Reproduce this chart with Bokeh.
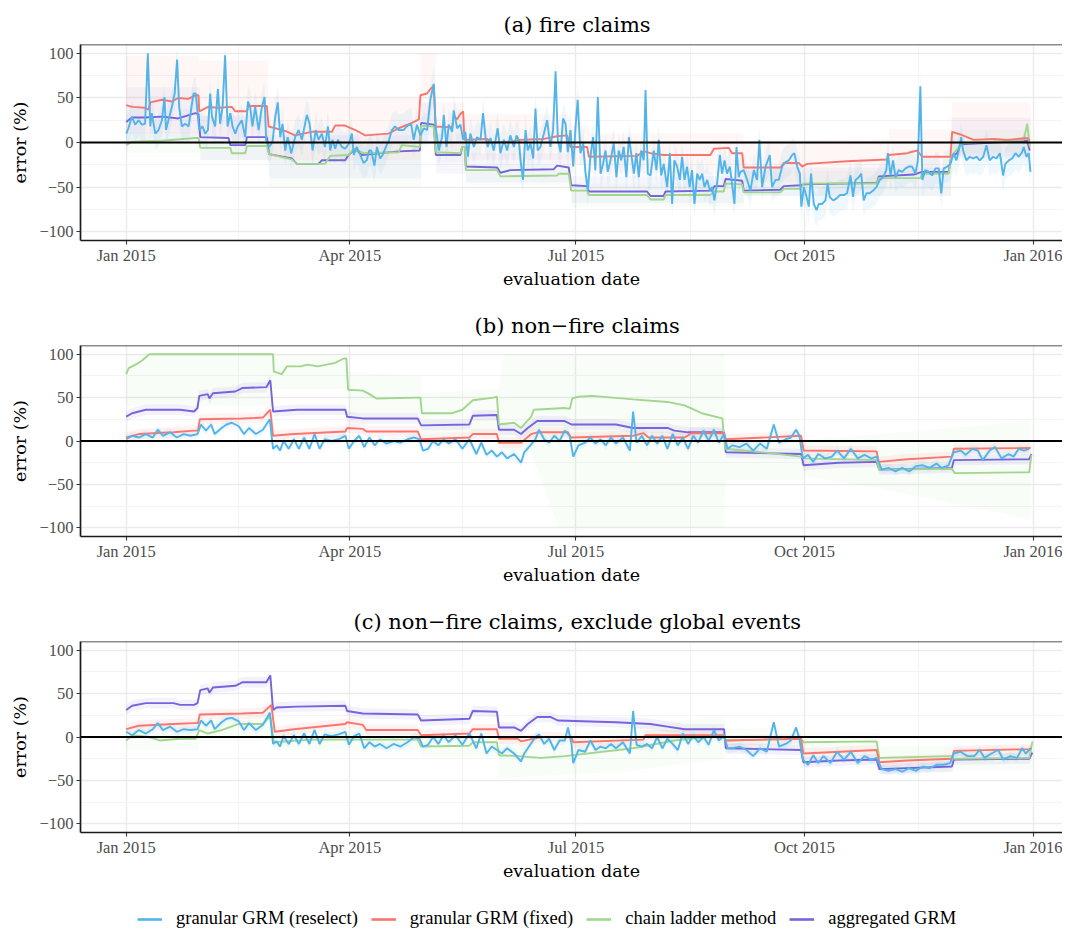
from bokeh.plotting import figure
from bokeh.models import Range1d, FixedTicker, Span, Legend, LegendItem
from bokeh.layouts import column
from bokeh.embed import file_html
from bokeh.resources import INLINE

# ---------------- data (x = days since 2015-01-01, y = error in %) ----------------
X_TICKS = [0, 90, 181, 273, 365]
X_MINOR = [45, 135.5, 227, 319]
X_LABELS = ["Jan 2015", "Apr 2015", "Jul 2015", "Oct 2015", "Jan 2016"]
Y_TICKS = [-100, -50, 0, 50, 100]
Y_MINOR = [-75, -25, 25, 75]
Y_LABELS = ["\u2212100", "\u221250", "0", "50", "100"]

SERIES = ["granular GRM (reselect)", "granular GRM (fixed)", "chain ladder method", "aggregated GRM"]
TITLES = ["(a) fire claims", "(b) non\u2212fire claims", "(c) non\u2212fire claims, exclude global events"]

# ---- panel (a) fire claims ----
A_BLUE = [(0,10),(0.9,16),(2.3,29),(3.6,20),(5,25),(6.3,20),(7.6,21),(8.7,100),(9.7,18),(10.3,33),(11.7,10),(13,14),(14.4,25),(15.4,51),(16,14),(17,25),(18.4,40),(19.5,55),(20.5,93),(21.3,40),(22.4,18),(23.7,21),(25.1,18),(27.1,55),(28,55),(29.4,14),(30.7,18),(31.8,10),(32.9,14),(33.8,55),(34.5,29),(35.8,18),(36.9,60),(37.8,21),(38.8,40),(39.8,98),(40.8,18),(41.9,33),(42.8,18),(43.9,10),(44.9,18),(46.5,25),(47.9,6),(49,46),(49.9,40),(50.8,18),(51.9,40),(53.3,14),(54.6,40),(55.7,51),(56.3,3),(57.5,-5),(58.9,1),(60,29),(61,45),(62,6),(62.9,21),(64,-9),(65,6),(66.4,-12),(68,6),(69.4,14),(70.7,3),(72.7,31),(73.8,21),(75,-9),(76.3,14),(77.4,3),(78.7,10),(80,-5),(81.2,18),(82.1,-9),(83,3),(84.1,-7),(85.2,3),(86.8,-5),(88.1,-7),(89.7,-1),(90.8,10),(91.6,-14),(92.8,-5),(94.2,-14),(95.5,-23),(96.8,-20),(97.8,-9),(98.6,-9),(99.9,-26),(100.9,-5),(102.2,-18),(103.2,-14),(104.5,-5),(105.8,3),(106.9,14),(108.2,18),(109.6,14),(111.6,14),(112.9,18),(114.7,21),
(115.7,3),(117,20),(118.4,8),(119.8,16),(121.1,14),(122.4,48),(123.8,66),(124.5,18),(125.8,-9),(127.1,6),(127.8,31),(128.9,-5),(129.8,20),(131.2,12),(131.8,36),(133.2,16),(134.5,20),(135.6,3),(136.5,12),(137.5,-16),(138.5,10),(139.9,-5),(141.2,6),(142.6,3),(143.6,33),(144.6,6),(145.5,-5),(146.6,5),(147.9,-9),(149.5,16),(150.6,-12),(152,3),(153.3,-9),(154.6,8),(156,-5),(157.1,8),(158,3),(158.7,-20),(159.7,-42),(160.7,14),(161.6,-9),(162.7,-1),(163.8,-18),(164.7,38),(165.6,-9),(166.7,-5),(168.1,10),(169.4,25),(170.7,-5),(171.8,14),(172.8,80),(173.7,3),(174.8,-11),(175.8,27),(176.8,21),(177.7,-11),(178.8,14),(179.9,-27),(180.8,16),(181.7,48),(182.8,-12),(183.9,-1),(184.8,-33),(185.8,-54),(186.8,-16),(187.9,6),(188.8,-31),(189.8,51),(190.9,-35),(191.9,-24),(192.9,-9),(193.8,-33),(194.9,-20),(196.2,-1),(197.3,-39),(198.2,-9),(199.2,-20),(200.2,-5),(201.3,-39),(202.3,6),(203.2,-12),(204.3,-35),(205.3,-12),(206.3,-39),(207.2,-9),(208.3,-20),(209,59),(209.9,-35),(211,-37),(212.3,-9),(213.4,-31),(214.3,3),(215.3,-37),(216.3,-24),(217.7,-50),(218.8,-12),(219.7,-69),(220.6,-20),(221.7,-27),(222.8,-42),(223.7,-16),(224.7,-42),(225.7,-27),(226.8,-50),(227.7,-31),(228.7,-69),(229.8,-35),(230.8,-42),(231.8,-35),(232.7,-50),(233.8,-42),(234.9,-54),(235.8,-50),(236.7,-65),(237.8,-46),(238.9,-14),(239.8,-35),(240.8,-20),(241.8,-35),(242.9,-27),(243.8,-46),(244.8,-69),(245.6,-5),(246.5,-39),
(247.2,-33),(248.5,-31),(249.9,-42),(251.2,-54),(252.6,-31),(253.9,-42),(254.8,3),(255.9,-50),(257.3,-27),(259,-14),(259.9,-50),(261.3,-42),(262.6,-42),(264,-27),(265.3,-22),(266.7,-20),(268,-14),(268.9,-12),(270,-27),(271.1,-35),(271.7,-72),(272.7,-50),(273.8,-61),(274.7,-72),(275.6,-35),(276.7,-69),(277.8,-76),(278.7,-69),(280,-69),(281.4,-65),(282.3,-46),(283.1,-61),(284.5,-65),(285.8,-63),(287.2,-59),(288.8,-59),(290.1,-57),(291.5,-37),(292.5,-61),(293.5,-42),(294.8,-39),(295.8,-35),(296.8,-65),(297.9,-57),(299.2,-57),(300.6,-54),(301.9,-50),(303.3,-42),(304.6,-39),(305.9,-31),(306.5,-12),(307.6,-37),(308.6,-20),(309.6,-39),(310.9,-31),(312.3,-33),(313.6,-29),(314.9,-27),(316.3,-27),(317.6,-35),(318.6,-20),(319.6,63),(320.4,-42),(321.6,-31),(323,-33),(324.3,-37),(325.7,-29),(327,-29),(328,-57),(329,-29),(330.4,-27),(331.7,-24),(333,-12),(334.1,-20),(335.1,-9),(336,6),(336.8,-9),(338.1,-20),(339.5,-16),(340.8,-18),(342.2,-16),(343.5,-20),(344.9,-16),(346.2,-3),(347.5,-20),(348.9,-16),(350.2,-18),(351.6,-12),(352.9,-37),(353.8,-24),(355.2,-20),(356.5,-18),(357.9,-12),(359.2,-16),(360.5,-11),(361.2,-5),(362.3,-16),(363.2,-12),(363.9,-33)]
A_RED = [(0,42),(2.3,40),(7.6,39),(9,37),(9.7,45),(14.4,48),(18.4,46),(21,50),(25,49),(27.8,53),(29.1,53),(29.4,35),(33,40),(37,39),(42.5,40),(43.9,35),(48.6,35),(49.2,41),(56.6,41),(57.3,18),(64,13),(68,8),(74.7,12),(82.8,12),(84.1,19),(88.1,19),(92.2,14),(96.2,8),(105.6,10),(109.6,16),(115,22),(117.8,26),(118.4,53),(121.1,55),(122.4,60),(123.8,64),(124.5,18),(131.2,17),(131.8,30),(133.2,26),(134.5,32),(135.6,35),(136.1,3),(145.3,4),(146.6,0),(154.6,1),(158.7,3),(168.1,4),(173.4,7),(177.4,8),(178.8,-5),(185.5,-5),(186.2,-16),(205.6,-15),(208.3,-10),(211,-12),(216.3,-14),(235.1,-14),(236.5,-7),(242.5,-6),(243.8,-12),(247.9,-12),(248.5,-28),(263.3,-28),(264.6,-23),(270.7,-23),(272,-27),(274,-24),(290,-21),(306.2,-19),(306.9,-14),(314.3,-12),(318.3,-9),(320.3,-16),(331.7,-16),(332.4,12),(335.7,9),(341.1,3),(349.1,4),(354.5,3),(362.6,5),(363.6,2)]
A_GREEN = [(0,-3),(2.3,1),(14.4,2),(27.8,5),(29.1,5),(29.8,-6),(41.9,-6),(42.5,-12),(47.9,-12),(48.6,-4),(56.6,-4),(57.5,-13),(66.7,-19),(68.7,-24),(80,-24),(82.1,-15),(89.5,-14),(91.5,-7),(95.5,-12),(109.6,-11),(110.9,-3),(118.2,-5),(118.7,19),(123.8,18),(124.6,-11),(134.5,-12),(135.2,-5),(136.3,-5),(136.7,-31),(149.3,-31),(150.6,-38),(173.4,-37),(174.1,-35),(178.1,-35),(179.1,-54),(185.5,-54),(186.2,-59),(209.6,-59),(211,-64),(216.3,-64),(217,-59),(235.1,-59),(236.5,-55),(240.5,-55),(241.2,-46),(247.9,-47),(248.5,-56),(263.3,-56),(264.6,-52),(271.3,-52),(272.7,-46),(302.2,-46),(302.9,-40),(319.6,-40),(320.3,-35),(331,-35),(332,-16),(335.1,-5),(336.4,-1),(349.1,1),(361.2,3),(362.6,21),(363.6,-5)]
A_PURPLE = [(0,23),(2.3,28),(7.6,28),(14.4,29),(21,27),(27.8,33),(29.1,32),(29.8,6),(41.2,5),(41.9,-3),(47.9,-3),(48.6,6),(56.6,6),(57.5,-13),(66.7,-18),(68.7,-24),(77.4,-24),(78.7,-20),(88.1,-20),(89.5,-14),(92.2,-7),(94.8,-14),(109.6,-10),(118.2,-9),(118.7,22),(123.8,20),(124.6,-14),(134.5,-14),(135.2,-5),(136.3,-5),(136.7,-27),(149.3,-28),(150.6,-34),(154.6,-31),(172.1,-30),(173.4,-26),(178.1,-28),(179.1,-48),(185.5,-49),(186.2,-55),(209.6,-55),(211,-60),(216.3,-60),(217,-55),(235.8,-54),(236.7,-49),(240.5,-49),(241.2,-41),(247.9,-43),(248.5,-54),(263.3,-53),(264.6,-49),(271.3,-48),(272.7,-47),(290.1,-46),(302.2,-45),(302.9,-38),(317,-36),(320.3,-33),(331,-33),(332,-16),(334.4,-12),(335.7,-2),(349.1,0),(362.6,2),(363.6,-9)]
# interval bands (day, lower, upper)
A_RED_BAND = [(0,10,97),(29.4,10,97),(29.4,5,92),(57.3,5,92),(57.3,-20,50),(118.4,-20,50),(118.4,25,100),(124.5,25,100),(124.5,-10,45),(136.1,-10,45),(136.1,-20,32),(178.8,-20,32),(178.8,-25,20),(186.2,-25,20),(186.2,-35,10),(248.5,-35,10),(248.5,-45,2),(306.9,-45,4),(306.9,-35,15),(332.4,-35,15),(332.4,-15,45),(364,-15,45)]
A_PURPLE_BAND = [(0,0,62),(29.8,0,62),(29.8,-20,30),(57.5,-20,30),(57.5,-40,8),(118.7,-40,8),(118.7,0,45),(124.6,0,45),(124.6,-35,10),(136.7,-35,10),(136.7,-45,-12),(179.1,-45,-12),(179.1,-68,-38),(248.5,-68,-38),(248.5,-60,-28),(332,-60,-28),(332,-18,28),(364,-18,28)]
A_GREEN_BAND = [(0,-12,12),(29.8,-12,12),(29.8,-20,5),(57.5,-20,5),(57.5,-50,0),(118.7,-50,0),(118.7,8,28),(124.6,8,28),(124.6,-22,2),(136.7,-22,2),(136.7,-48,-24),(179.1,-48,-24),(179.1,-72,-46),(248.5,-72,-46),(248.5,-60,-32),(332,-60,-32),(332,-12,14),(364,-12,14)]
A_HALFWIDTH = {"blue": 18}

# ---- panel (b) non-fire claims ----
B_BLUE = [(0,2),(2.4,6),(5.1,4),(7.9,8),(10.7,4),(12.7,13),(14.8,6),(17.6,10),(20.4,4),(23.1,8),(25.9,6),(28.7,8),(30.1,19),(32.1,12),(34.2,19),(35.6,8),(38.4,15),(40.4,19),(42.5,21),(45.3,17),(47.4,8),(49.4,15),(52.2,8),(55,13),(57.8,25),(59.1,-9),(60.5,-5),(61.9,-11),(63.3,0),(65.4,-9),(67.5,2),(69.5,-9),(71.6,4),(73.7,-9),(75.8,8),(77.8,-9),(79.9,2),(82.7,0),(85.5,2),(88.2,6),(89.6,-9),(91.7,0),(93.8,6),(95.8,-7),(97.9,4),(100,-5),(102.1,2),(104.8,-3),(107.6,0),(110.4,-2),(113.2,2),(115.9,4),(118,2),(119.4,-11),(121.5,-9),(123.5,0),(125.6,-5),(127.7,2),(129.8,-3),(132.5,2),(135.3,-9),(138.1,2),(140.9,-15),(142.9,-2),(145,-16),(147.1,-11),(149.2,-18),(151.2,-13),(153.3,-20),(156.1,-15),(158.9,-25),(160.2,-13),
(164.7,2),(166.1,13),(168.2,2),(170.2,-2),(172.3,6),(174.4,0),(176.5,12),(178.5,6),(179.9,-18),(182,-5),(184.7,-2),(186.8,4),(188.9,-3),(190.9,2),(193,-5),(195.1,4),(197.1,-3),(199.9,4),(202.7,-11),(204,34),(205.4,-2),(207.5,6),(209.6,-5),(211.6,6),(213.7,-3),(215.8,6),(217.8,-9),(219.9,8),(222,-5),(224,4),(226.1,-9),(228.2,6),(230.2,-2),(232.3,12),(234.4,0),(236.5,13),(238.5,-2),(240.6,8),(242,-9),(244,-5),(246.8,-7),(249.6,-3),(252.3,-11),(255.1,-3),(257.8,-9),(260.6,19),(262.7,-2),(265.4,2),(267.5,4),(269.6,13),(270.9,6),(272.3,-20),(274.4,-16),(276.5,-24),(278.5,-15),(281.3,-20),(284,-18),(286.1,-11),(288.9,-20),(291.6,-9),(294.4,-20),(297.1,-16),(299.9,-20),(302,-18),(304,-33),(306.8,-31),(309.6,-35),(312.3,-31),(315.1,-35),(317.8,-29),(320.6,-28),(323.3,-31),(326.1,-26),(328.2,-31),(330.9,-28),(333,-13),(335.8,-11),(337.8,-16),(340.6,-9),(342.7,-11),(344.7,-22),(347.5,-11),(349.6,-7),(352.3,-20),(355.1,-15),(357.1,-18),(359.2,-9),(361.3,-11),(363.4,-9)]
B_RED = [(0,4),(5.1,8),(19,10),(27.3,12),(28.9,12),(29.6,25),(46.7,26),(55,27),(58,36),(59.1,6),(67.5,8),(88.2,11),(88.9,15),(95.2,14),(96.6,11),(117.3,11),(118.7,2),(138.1,4),(139.5,8),(149.2,8),(150,-2),(158.9,-2),(163,8),(165.4,10),(177.8,10),(178.9,4),(204,6),(208.2,9),(210.2,4),(224.7,4),(227.5,9),(240.6,9),(241.3,2),(271.6,6),(272.6,-11),(302,-12),(302.8,-24),(314.4,-21),(332.3,-18),(333.1,-9),(364,-8)]
B_GREEN = [(0,77),(1,84),(5.1,90),(6.5,93),(9.3,100),(59.1,100),(59.4,80),(62.6,77),(64.7,86),(70.2,86),(73,88),(77.1,86),(84.1,90),(87.5,95),(88.6,95),(89.3,59),(95.2,58),(97.9,54),(100.7,49),(117.3,50),(118.4,50),(119,32),(131.2,32),(135.3,36),(139.5,47),(147.8,50),(149.2,51),(150,19),(156.1,21),(158.9,15),(163,28),(164,36),(176.5,38),(178.5,37),(179.5,49),(182,51),(187.5,52),(204,48),(217.8,45),(224.7,41),(231.6,32),(239.9,26),(241,-9),(259.2,-14),(271.6,-18),(273,-20),(302,-22),(303.1,-33),(332.3,-32),(333.4,-37),(363.4,-36),(364.3,-16)]
B_PURPLE = [(0,28),(2.4,32),(7.9,36),(21.7,36),(27.3,34),(28.7,38),(29.4,52),(32.8,54),(33.5,49),(34.9,55),(43.9,57),(46.7,61),(56.4,62),(58,70),(59.1,34),(68.8,36),(88.2,36),(88.9,28),(95.2,26),(117.3,26),(118.7,18),(138.1,19),(139.5,29),(149.2,30),(150,13),(156.1,13),(158.9,8),(161.6,15),(165.4,23),(176.5,23),(179.2,19),(197.1,19),(204,15),(217.8,15),(220.6,12),(226.1,10),(240.6,10),(241.3,-13),(271.6,-15),(272.6,-28),(286.8,-25),(302,-24),(303.1,-33),(332.3,-31),(333.1,-22),(363.4,-21),(364.3,-15)]
B_GREEN_BAND = [(0,40,100),(59.1,40,100),(59.1,60,100),(89.3,60,100),(89.3,30,80),(119,30,75),(119,10,55),(150,5,60),(152,-10,100),(163,-15,100),(174,-100,100),(240.6,-100,100),(241,-45,0),(272.6,-45,0),(273,-40,2),(303,-55,8),(333,-72,15),(364,-90,24)]
B_HALFWIDTH = {"blue": 5, "red": 6, "purple": 6}

# ---- panel (c) non-fire claims, exclude global events ----
C_BLUE = [(0,6),(2.4,2),(5.1,8),(7.9,4),(10.7,9),(12.7,16),(14.8,8),(17.6,12),(20.4,6),(23.1,9),(25.9,8),(28.7,9),(30.1,19),(32.1,13),(34.2,19),(35.6,9),(38.4,17),(40.4,21),(42.5,22),(45.3,18),(47.4,8),(49.4,16),(52.2,8),(55,14),(57.8,28),(59.1,-8),(60.5,-5),(61.9,-11),(63.3,1),(65.4,-8),(67.5,2),(69.5,-8),(71.6,4),(73.7,-8),(75.8,8),(77.8,-8),(79.9,3),(82.7,1),(85.5,3),(88.2,6),(89.6,-9),(91.7,1),(93.8,4),(95.8,-13),(97.9,-6),(100,-11),(102.1,-8),(104.8,-13),(107.6,-8),(110.4,-11),(113.2,-6),(115.9,0),(118,-2),(119.4,-11),(121.5,-9),(123.5,0),(125.6,-8),(127.7,2),(129.8,-6),(132.5,2),(135.3,-9),(138.1,4),(140.9,-13),(142.9,4),(145,-19),(147.1,-11),(149.2,-15),(151.2,-19),(153.3,-13),(156.1,-19),(158.9,-28),(160.2,-19),
(164.7,0),(166.1,3),(168.2,-8),(170.2,-2),(172.3,-15),(174.4,-4),(176.5,-4),(177.8,11),(179.2,-8),(179.9,-30),(182,-15),(184.7,-17),(186.8,-4),(188.9,-15),(190.9,-11),(193,-13),(195.1,-8),(197.1,-13),(199.9,-6),(202.7,-19),(204,30),(205.4,-9),(207.5,-11),(209.6,-8),(211.6,-13),(213.7,0),(215.8,-13),(217.8,-2),(219.9,-8),(222,-15),(224,4),(226.1,-8),(228.2,2),(230.2,-6),(232.3,0),(234.4,-9),(236.5,8),(238.5,-4),(240.6,2),(242,-13),(244,-13),(246.8,-11),(249.6,-15),(252.3,-22),(255.1,-13),(257.8,-17),(260.6,17),(262.7,-11),(265.4,-8),(267.5,-4),(269.6,11),(270.9,-2),(272.3,-26),(274.4,-32),(276.5,-21),(278.5,-30),(280.6,-22),(283.4,-30),(286.1,-17),(288.9,-26),(291.6,-17),(294.4,-30),(297.1,-22),(299.9,-26),(302,-24),(304,-37),(306.8,-39),(309.6,-37),(312.3,-40),(315.1,-36),(317.8,-39),(320.6,-34),(323.3,-36),(326.1,-32),(328.9,-32),(331.6,-30),(333,-19),(335.8,-17),(338.5,-22),(341.3,-22),(343.4,-15),(345.4,-24),(348.2,-19),(350.9,-15),(353,-26),(355.8,-22),(358.5,-24),(360.6,-13),(362,-19),(364,-13)]
C_RED = [(0,9),(5.1,13),(19,15),(27.3,16),(28.9,16),(29.6,26),(46.7,27),(55,28),(58.4,37),(59.8,6),(67.5,9),(88.2,15),(88.9,17),(95.2,14),(96.6,8),(117.3,8),(118.7,2),(138.1,4),(139.5,9),(149.2,9),(150,-2),(157.5,-2),(158.9,-5),(166.9,0),(179.2,0),(179.9,-6),(208.2,-3),(208.9,2),(239.9,2),(241.3,-4),(271.6,-2),(272.5,-19),(302,-15),(303.1,-29),(314.4,-27),(332.3,-25),(333.1,-16),(363.4,-14),(364.3,-13)]
C_GREEN = [(0,-4),(2.4,2),(9.3,0),(13.4,-4),(21.7,-2),(28,-2),(29.4,8),(32.8,4),(38.4,8),(45.3,15),(55,15),(58,24),(59.4,-6),(74.4,-3),(88.2,-3),(117.3,-3),(118.7,-11),(138.1,-10),(139.5,-6),(149.2,-6),(150,-21),(157.5,-22),(166.9,-24),(176.5,-22),(204,-13),(220.6,-4),(240.6,2),(241.3,-4),(271.6,-2),(272.5,-6),(302,-5),(303.1,-24),(332.3,-22),(333.1,-25),(363.4,-24),(364.7,-5)]
C_PURPLE = [(0,31),(2.4,36),(7.9,39),(19,39),(21.7,37),(27.3,37),(28.7,39),(29.8,54),(32.8,56),(33.5,51),(34.9,57),(43.9,59),(46.7,63),(56.4,63),(58,71),(59.1,31),(60.5,34),(68.8,35),(88.2,36),(88.9,30),(95.2,27),(117.3,26),(118.7,19),(138.1,21),(139.5,30),(149.2,29),(150,11),(156.1,11),(158.9,7),(161.6,15),(165.4,23),(170.9,23),(173.7,19),(197.1,17),(210.9,15),(217.8,12),(224.7,9),(240.6,9),(241.3,-13),(271.6,-15),(272.5,-29),(286.8,-27),(302,-26),(303.1,-37),(332.3,-34),(333.1,-26),(363.4,-25),(364.7,-18)]
C_GREEN_BAND = [(0,-15,8),(29.4,-15,8),(29.4,-5,18),(59.4,-5,26),(59.4,-15,5),(118.7,-15,8),(118.7,-22,0),(150,-22,2),(150,-48,-5),(165,-45,0),(200,-40,10),(240.6,-25,25),(241.3,-15,10),(272.5,-15,10),(272.5,-20,5),(303.1,-18,5),(303.1,-40,-10),(333.1,-40,-10),(333.1,-38,-12),(364.7,-38,-10)]
C_HALFWIDTH = {"blue": 5, "red": 6, "purple": 6}

# ---------------- styling ----------------
COLORS = {"blue": "#52B4E9", "red": "#F8766D", "green": "#A0D68D", "purple": "#7664DA"}
TITLE_FONT = "DejaVu Serif"
TICK_FONT = "Liberation Serif"
FRAME_COLOR = "#1a1a1a"
FIG_W = 1062


def split(pairs):
    return [p[0] for p in pairs], [p[1] for p in pairs]


def make_panel(title, title_offset, lines, bands, sym_bands, height, top):
    p = figure(width=FIG_W, height=height, output_backend="svg", toolbar_location=None,
               x_range=Range1d(-18.39, 376.8), y_range=Range1d(-110, 110),
               min_border_left=80, min_border_right=0, min_border_top=top, min_border_bottom=64,
               outline_line_color=None, background_fill_color="white")
    p.title.text = title
    p.title.align = "left"
    p.title.offset = title_offset
    p.title.text_font = TITLE_FONT
    p.title.text_font_size = "21px"
    p.title.text_font_style = "normal"
    p.title.text_color = "black"
    p.title.standoff = 15

    xt = FixedTicker(ticks=X_TICKS, minor_ticks=X_MINOR)
    yt = FixedTicker(ticks=Y_TICKS, minor_ticks=Y_MINOR)
    p.xaxis.ticker = xt
    p.yaxis.ticker = yt
    p.xgrid.ticker = xt
    p.ygrid.ticker = yt
    p.xaxis.major_label_overrides = dict(zip(X_TICKS, X_LABELS))
    p.yaxis.major_label_overrides = dict(zip(Y_TICKS, Y_LABELS))
    for ax in (p.xaxis, p.yaxis):
        ax.axis_line_color = FRAME_COLOR
        ax.axis_line_width = 1.7
        ax.major_tick_line_color = "#333333"
        ax.major_tick_line_width = 1.1
        ax.major_tick_out = 4
        ax.major_tick_in = 0
        ax.minor_tick_line_color = None
        ax.major_label_text_font = TICK_FONT
        ax.major_label_text_font_size = "16.5px"
        ax.major_label_text_color = "#4d4d4d"
        ax.axis_label_text_font = TITLE_FONT
        ax.axis_label_text_font_size = "17.5px"
        ax.axis_label_text_font_style = "normal"
        ax.axis_label_text_color = "black"
    p.xaxis.major_label_standoff = 1
    p.yaxis.major_label_standoff = 3
    p.xaxis.axis_label = "evaluation date"
    p.yaxis.axis_label = "error (%)"
    p.xaxis.axis_label_standoff = 1
    p.yaxis.axis_label_standoff = 6
    for g in (p.xgrid, p.ygrid):
        g.grid_line_color = "#EBEBEB"
        g.grid_line_width = 1.4
        g.minor_grid_line_color = "#F3F3F3"
        g.minor_grid_line_width = 0.9

    # interval bands
    for key, band in bands.items():
        d = [b[0] for b in band]
        lo = [b[1] for b in band]
        hi = [b[2] for b in band]
        p.varea(x=d, y1=lo, y2=hi, fill_color=COLORS[key], fill_alpha=0.06)
    for key, hw in sym_bands.items():
        d, v = split(lines[key])
        p.varea(x=d, y1=[y - hw for y in v], y2=[y + hw for y in v],
                fill_color=COLORS[key], fill_alpha=0.09)

    p.add_layout(Span(location=0, dimension="width", line_color="black", line_width=1.8))
    p.add_layout(Span(location=110, dimension="width", line_color=FRAME_COLOR, line_width=1.7))

    for key in ["purple", "green", "red", "blue"]:
        d, v = split(lines[key])
        p.line(d, v, line_color=COLORS[key], line_width=1.9)
    return p


pa = make_panel(TITLES[0], 423,
                {"blue": A_BLUE, "red": A_RED, "green": A_GREEN, "purple": A_PURPLE},
                {"red": A_RED_BAND, "purple": A_PURPLE_BAND, "green": A_GREEN_BAND},
                A_HALFWIDTH, 304, 44)
pb = make_panel(TITLES[1], 394,
                {"blue": B_BLUE, "red": B_RED, "green": B_GREEN, "purple": B_PURPLE},
                {"green": B_GREEN_BAND}, B_HALFWIDTH, 296, 36)
pc = make_panel(TITLES[2], 273,
                {"blue": C_BLUE, "red": C_RED, "green": C_GREEN, "purple": C_PURPLE},
                {"green": C_GREEN_BAND}, C_HALFWIDTH, 296, 36)

# legend strip
lg = figure(width=FIG_W, height=35, output_backend="svg", toolbar_location=None,
            x_range=Range1d(0, 1), y_range=Range1d(0, 1), min_border=0,
            outline_line_color=None, x_axis_type=None, y_axis_type=None)
items = []
for name, key in zip(SERIES, ["blue", "red", "green", "purple"]):
    r = lg.line(x=[-5, -4], y=[-5, -4], line_color=COLORS[key], line_width=2.6)
    items.append(LegendItem(label=name, renderers=[r]))
leg = Legend(items=items, orientation="horizontal", location=(57, 2),
             glyph_width=25, glyph_height=18, label_standoff=14, spacing=13, padding=2, margin=0,
             border_line_color=None, background_fill_alpha=0,
             label_text_font=TICK_FONT, label_text_font_size="18.5px", label_text_color="black")
lg.add_layout(leg)

layout = column(pa, pb, pc, lg, spacing=0)
open("out.html", "w").write(file_html(layout, INLINE))
